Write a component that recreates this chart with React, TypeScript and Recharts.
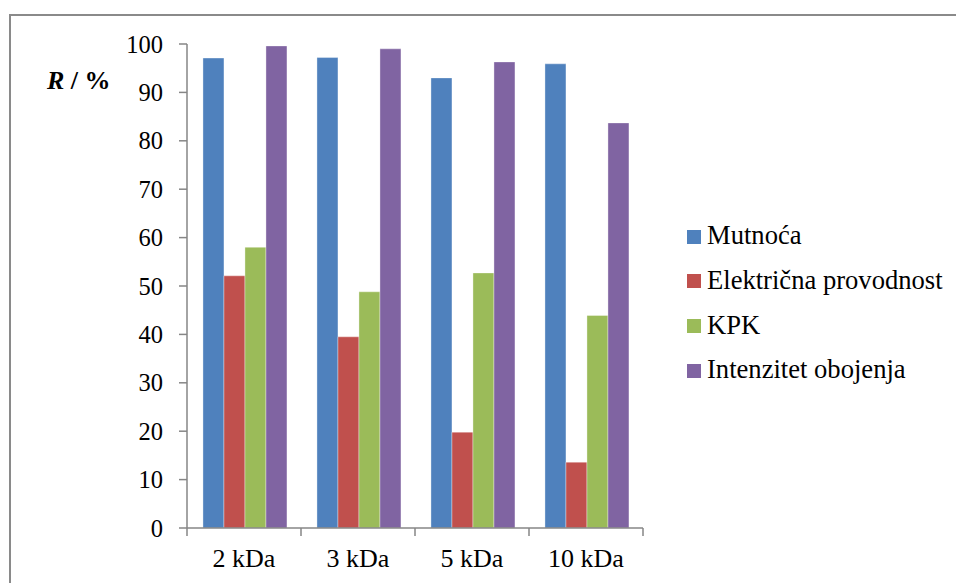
import React from "react";
import { BarChart, Bar, XAxis, YAxis } from "recharts";

const categories = ["2 kDa", "3 kDa", "5 kDa", "10 kDa"];
const seriesNames = ["Mutnoća", "Električna provodnost", "KPK", "Intenzitet obojenja"];
const seriesKeys = ["mutnoca", "elektricna", "kpk", "intenzitet"];
const seriesColors = ["#4F81BD", "#C0504D", "#9BBB59", "#8064A2"];
const mutnoca = [97.1, 97.2, 93.0, 95.9];
const elektricna = [52.1, 39.5, 19.8, 13.6];
const kpk = [58.0, 48.8, 52.7, 43.9];
const intenzitet = [99.6, 99.0, 96.3, 83.7];
const yTicks = [0, 10, 20, 30, 40, 50, 60, 70, 80, 90, 100];

const seriesValues = [mutnoca, elektricna, kpk, intenzitet];
const data = categories.map((c, i) => {
  const row: Record<string, any> = { name: c };
  seriesKeys.forEach((k, s) => {
    row[k] = seriesValues[s][i];
  });
  return row;
});

const FONT = "'Liberation Serif', 'Times New Roman', serif";
const AXIS = "#868686";
const W = 956;
const H = 583;
const M = { top: 44, right: 313, left: 0, bottom: 0 };
const Y_W = 187;
const X_TICK = 8;
const X_MARGIN = 13;

const XTick = (props: any) => {
  const { x, y, payload, index } = props;
  const fallbackHalf = (W - M.right - Y_W - M.left) / categories.length / 2;
  const half = payload && payload.offset ? payload.offset : fallbackHalf;
  const axisY = y - X_TICK - X_MARGIN;
  return (
    <g>
      <line x1={x - half} x2={x - half} y1={axisY} y2={axisY + X_TICK} stroke={AXIS} strokeWidth={1.5} />
      {index === categories.length - 1 && (
        <line x1={x + half} x2={x + half} y1={axisY} y2={axisY + X_TICK} stroke={AXIS} strokeWidth={1.5} />
      )}
      <text x={x} y={y} dy="0.71em" textAnchor="middle" fill="#000" fontSize={26} fontFamily={FONT}>
        {payload.value}
      </text>
    </g>
  );
};

export default function App() {
  return (
    <div style={{ position: "absolute", left: 0, top: 0, width: W, height: H, background: "#fff", overflow: "hidden" }}>
      <div
        style={{
          position: "absolute",
          left: 9,
          top: 14,
          width: 980,
          height: 620,
          border: "2px solid #8a8a8a",
          boxSizing: "border-box",
        }}
      />
      <div style={{ position: "absolute", left: 0, top: 0 }}>
        <BarChart width={W} height={H} data={data} margin={M} barCategoryGap="14%" barGap={0}>
          <XAxis
            dataKey="name"
            height={H - 528 - M.bottom}
            axisLine={{ stroke: AXIS, strokeWidth: 1.5 }}
            tickLine={false}
            tickSize={X_TICK}
            tickMargin={X_MARGIN}
            tick={<XTick />}
            interval={0}
          />
          <YAxis
            width={Y_W}
            domain={[0, 100]}
            ticks={yTicks}
            interval={0}
            axisLine={{ stroke: AXIS, strokeWidth: 1.5 }}
            tickLine={{ stroke: AXIS, strokeWidth: 1.5 }}
            tickSize={8}
            tickMargin={16}
            tick={{ fill: "#000", fontSize: 24.5, fontFamily: FONT }}
          />
          {seriesKeys.map((k, i) => (
            <Bar
              key={k}
              dataKey={k}
              name={seriesNames[i]}
              fill={seriesColors[i]}
              stroke="rgba(255,255,255,0.35)"
              strokeWidth={1}
              isAnimationActive={false}
            />
          ))}
        </BarChart>
      </div>
      <div
        style={{
          position: "absolute",
          left: 47,
          top: 66,
          fontFamily: FONT,
          fontSize: 26,
          fontWeight: "bold",
          lineHeight: "30px",
          whiteSpace: "pre",
          color: "#000",
        }}
      >
        <i>R</i> / %
      </div>
      {seriesNames.map((n, i) => (
        <div
          key={n}
          style={{
            position: "absolute",
            left: 687,
            top: 213 + i * 44.8,
            height: 44.8,
            lineHeight: "44.8px",
            fontFamily: FONT,
            fontSize: 26.6,
            color: "#000",
            whiteSpace: "nowrap",
          }}
        >
          <span
            style={{
              position: "absolute",
              left: 0,
              top: 16.5,
              width: 14,
              height: 14,
              background: seriesColors[i],
            }}
          />
          <span style={{ position: "absolute", left: 20, top: 0 }}>{n}</span>
        </div>
      ))}
    </div>
  );
}
